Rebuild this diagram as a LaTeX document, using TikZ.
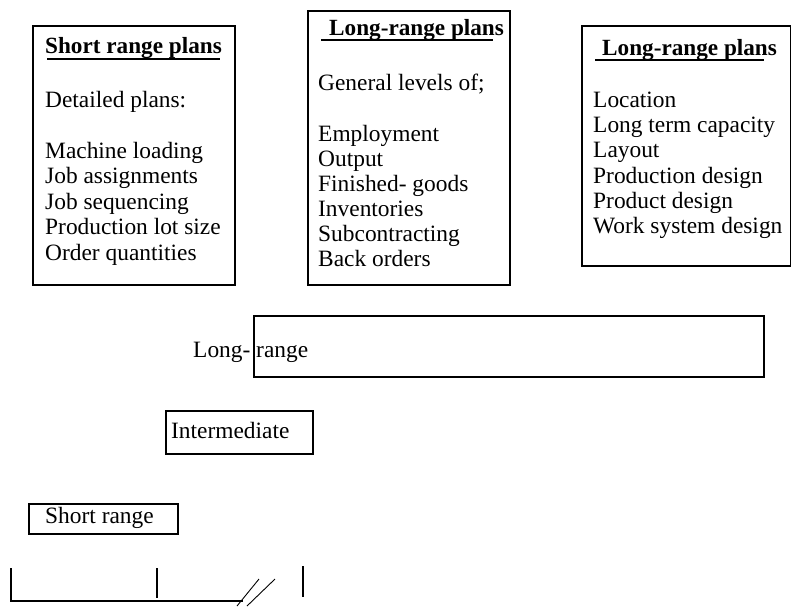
\documentclass[tikz,border=0pt]{standalone}
\usepackage{fontspec}
\setmainfont{Liberation Serif}
\tikzset{
  box/.style={draw=black, line width=1.6pt, rectangle, inner sep=0pt, anchor=north west},
  txt/.style={inner sep=0pt, anchor=base west, font=\fontsize{23.4}{25}\selectfont},
  ttl/.style={inner sep=0pt, anchor=base west, font=\fontsize{23.2}{25}\selectfont\bfseries},
  uline/.style={line width=2.6pt},
  axis/.style={line width=1.3pt},
  slash/.style={line width=0.9pt}
}
\begin{document}
\begin{tikzpicture}[x=1pt,y=-1pt]
\useasboundingbox (0,0) rectangle (791,606);
% Box 1
\node[box, minimum width=202pt, minimum height=259pt] (b1) at (32,25) {};
\node[ttl] (b1t) at (45,53) {Short range plans};
\draw[uline] (47,59) -- (220,59);
\node[txt] (b1a) at (45,107) {Detailed plans:};
\node[txt] (b1b) at (45,158) {Machine loading};
\node[txt] (b1c) at (45,183.5) {Job assignments};
\node[txt] (b1d) at (45,209) {Job sequencing};
\node[txt] (b1e) at (45,234.5) {Production lot size};
\node[txt] (b1f) at (45,260) {Order quantities};
% Box 2
\node[box, minimum width=202pt, minimum height=274pt] (b2) at (307,10) {};
\node[ttl] (b2t) at (329,35) {Long-range plans};
\draw[uline] (321,40) -- (493,40);
\node[txt] (b2a) at (318,90) {General levels of;};
\node[txt] (b2b) at (318,141) {Employment};
\node[txt] (b2c) at (318,166) {Output};
\node[txt] (b2d) at (318,191) {Finished- goods};
\node[txt] (b2e) at (318,216) {Inventories};
\node[txt] (b2f) at (318,241) {Subcontracting};
\node[txt] (b2g) at (318,266) {Back orders};
% Box 3
\node[box, minimum width=209pt, minimum height=240pt] (b3) at (581,25) {};
\node[ttl] (b3t) at (602,55) {Long-range plans};
\draw[uline] (595,60) -- (764,60);
\node[txt] (b3a) at (593,107) {Location};
\node[txt] (b3b) at (593,132) {Long term capacity};
\node[txt] (b3c) at (593,157) {Layout};
\node[txt] (b3d) at (593,183) {Production design};
\node[txt] (b3e) at (593,208) {Product design};
\node[txt] (b3f) at (593,233) {Work system design};
% Horizon boxes
\node[box, minimum width=510pt, minimum height=61pt] (lr) at (253,315) {};
\node[txt] (lrt) at (193,357) {Long- range};
\node[box, minimum width=147pt, minimum height=43pt] (im) at (165,410) {};
\node[txt] (imt) at (171,438) {Intermediate};
\node[box, minimum width=149pt, minimum height=30pt] (sr) at (28,503) {};
\node[txt] (srt) at (45,523) {Short range};
% Axis
\draw[axis] (11,568) -- (11,601) -- (243,601);
\draw[axis] (157,568) -- (157,598);
\draw[axis] (303,566) -- (303,597);
\draw[slash] (237,606) -- (259,579);
\draw[slash] (247,606) -- (275,579);
\end{tikzpicture}
\end{document}
